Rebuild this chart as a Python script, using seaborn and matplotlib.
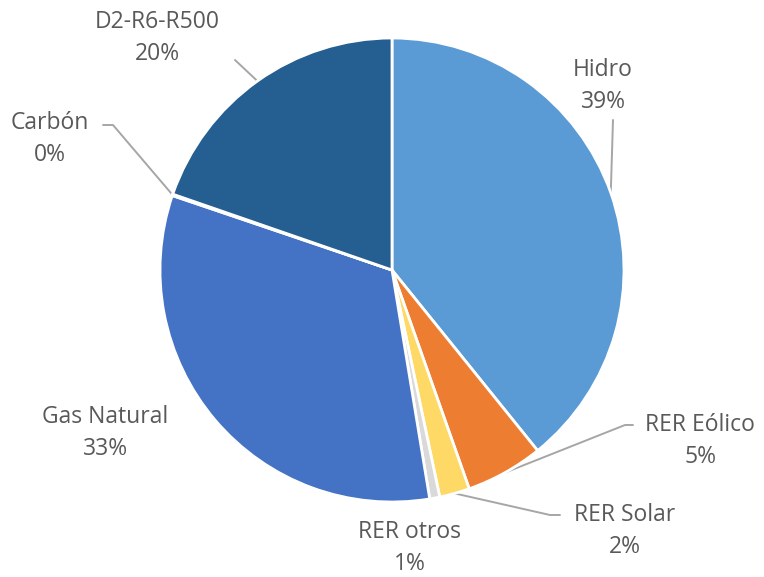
import matplotlib
matplotlib.use("Agg")
import matplotlib.pyplot as plt
import seaborn as sns
import numpy as np

# Shares of generation by source (percent)
sources = ["Hidro", "RER Eólico", "RER Solar", "RER otros",
           "Gas Natural", "Carbón", "D2-R6-R500"]
shares = [39.2, 5.4, 2.1, 0.7, 32.8, 0.1, 19.7]
colors = ["#5B9BD5", "#ED7D31", "#FFD966", "#D9D9D9",
          "#4472C4", "#A5A5A5", "#255E91"]

sns.set_theme(style="white")
plt.rcParams['font.family'] = ['Open Sans', 'DejaVu Sans']

W, H = 764, 577
fig = plt.figure(figsize=(W / 100, H / 100), dpi=100)
ax = fig.add_axes([0, 0, 1, 1])

# pie centre / radius in pixels (y measured from the top)
cx, cy, r = 392, 270, 232
wedges, _ = ax.pie(shares, colors=colors, startangle=90, counterclock=False,
                   radius=r, center=(cx, H - cy),
                   wedgeprops=dict(edgecolor="white", linewidth=2.0))
ax.set_xlim(0, W)
ax.set_ylim(0, H)
ax.set_aspect("equal")
ax.axis("off")

# label anchor (x, y of name line, from top) and leader elbow points
label_pos = {
    "Hidro": ((603, 70), [(613, 120)]),
    "RER Eólico": ((700, 425), [(625, 425), (633, 425)]),
    "RER Solar": ((625, 515), [(550, 515), (560, 515)]),
    "RER otros": ((410, 532), None),
    "Gas Natural": ((105, 417), None),
    "Carbón": ((50, 123), [(113, 125), (103, 125)]),
    "D2-R6-R500": ((157, 22), [(235, 60)]),
}

cum = 0
for name, val in zip(sources, shares):
    mid = cum + val / 2
    cum += val
    (tx, ty), elbow = label_pos[name]
    ax.text(tx, H - ty, name, ha="center", va="center", fontsize=16.5,
            color="#595959")
    ax.text(tx, H - ty - 32, f"{val:.0f}%", ha="center", va="center",
            fontsize=16.5, color="#595959")
    if elbow:
        ang = np.deg2rad(mid * 3.6)
        ex, ey = cx + r * np.sin(ang), cy - r * np.cos(ang)
        pts = [(ex, ey)] + elbow
        ax.plot([p[0] for p in pts], [H - p[1] for p in pts],
                color="#A6A6A6", linewidth=1.4, zorder=0.5)

fig.savefig("out.png", dpi=100, facecolor="white")
